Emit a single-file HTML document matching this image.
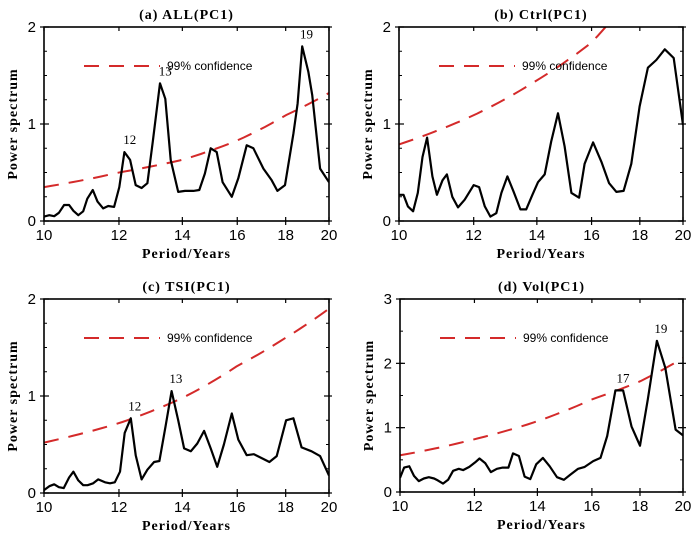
<!DOCTYPE html>
<html><head><meta charset="utf-8"><style>
body{margin:0;background:#fff;}
svg{display:block;}
.tl{font-family:"Liberation Serif",serif;font-weight:bold;font-size:14px;letter-spacing:1px;}
.tk{font-family:"Liberation Sans",sans-serif;font-size:15px;}
.lg{font-family:"Liberation Sans",sans-serif;font-size:12px;}
.pk{font-family:"Liberation Serif",serif;font-size:13px;}
</style></head><body>
<svg id="fig" width="700" height="540" viewBox="0 0 700 540"></svg>
<script>
// Panel (a) ALL(PC1)
const aPeriods=[10,10.13,10.25,10.37,10.5,10.63,10.74,10.87,11,11.11,11.26,11.39,11.55,11.69,11.86,12.01,12.16,12.33,12.5,12.68,12.86,13.03,13.26,13.43,13.61,13.86,14.09,14.38,14.59,14.79,15,15.22,15.44,15.79,16.04,16.37,16.64,17.05,17.4,17.64,17.97,18.34,18.53,18.74,19.02,19.2,19.57,20];
const aValues=[.045,.06,.05,.085,.165,.165,.105,.06,.10,.23,.32,.20,.13,.155,.145,.35,.71,.63,.37,.34,.39,.82,1.42,1.26,.63,.30,.31,.31,.32,.49,.75,.71,.40,.25,.44,.78,.75,.54,.42,.31,.37,.90,1.21,1.80,1.54,1.30,.54,.40];
// Panel (b) Ctrl(PC1)
const bPeriods=[10,10.11,10.22,10.35,10.47,10.59,10.71,10.85,10.97,11.12,11.24,11.39,11.55,11.74,12,12.16,12.33,12.5,12.68,12.84,13.03,13.23,13.45,13.64,13.85,14.04,14.27,14.5,14.74,14.98,15.23,15.52,15.73,16.06,16.39,16.7,17,17.3,17.63,17.99,18.36,18.74,19.13,19.55,20];
const bValues=[.27,.27,.15,.10,.29,.66,.86,.46,.27,.42,.48,.25,.14,.22,.37,.35,.15,.045,.08,.29,.46,.30,.12,.12,.27,.40,.48,.82,1.11,.77,.29,.24,.59,.81,.61,.39,.30,.31,.59,1.18,1.58,1.66,1.77,1.68,.99];
// Panel (c) TSI(PC1)
const cPeriods=[10,10.13,10.25,10.37,10.49,10.63,10.74,10.87,11,11.12,11.27,11.41,11.6,11.74,11.88,12.03,12.17,12.35,12.5,12.68,12.86,13.07,13.24,13.44,13.64,13.86,14.06,14.29,14.52,14.76,15,15.24,15.49,15.79,16.04,16.37,16.66,16.98,17.3,17.61,18.02,18.34,18.71,19.17,19.57,20];
const cValues=[.03,.07,.09,.06,.05,.16,.22,.13,.08,.08,.10,.14,.11,.10,.11,.22,.62,.77,.39,.14,.24,.32,.33,.69,1.05,.75,.46,.43,.51,.64,.46,.27,.50,.82,.55,.39,.40,.36,.32,.38,.75,.77,.47,.43,.38,.18];
// Panel (d) Vol(PC1)
const dPeriods=[10,10.1,10.23,10.35,10.47,10.6,10.73,10.87,10.97,11.11,11.25,11.39,11.55,11.67,11.85,12.02,12.15,12.32,12.49,12.68,12.86,13.04,13.19,13.38,13.57,13.76,13.96,14.19,14.43,14.69,14.94,15.18,15.47,15.72,16.05,16.34,16.61,16.95,17.27,17.63,18,18.35,18.76,19.15,19.64,20];
const dValues=[.22,.38,.40,.25,.17,.21,.23,.21,.18,.13,.19,.33,.36,.34,.39,.46,.52,.45,.31,.36,.38,.38,.60,.56,.24,.20,.43,.53,.40,.23,.19,.27,.36,.39,.48,.53,.87,1.58,1.58,1.02,.72,1.44,2.35,1.93,.97,.88];
// 99% confidence curves
const confPeriods=[10,12,14,16,18,20];
const aConf=[.35,.50,.63,.83,1.09,1.32];
const bConf=[.79,1.09,1.45,1.84,2.45,3.2];
const cConf=[.52,.72,.98,1.31,1.60,1.90];
const dConf=[.57,.82,1.10,1.44,1.72,2.08];
const xTicks=[10,12,14,16,18,20];
const aYTicks=[0,1,2], dYTicks=[0,1,2,3];
const aPeaks=[[12.2,.71,"12"],[13.3,1.42,"13"],[18.75,1.8,"19"]];
const cPeaks=[[12.35,.77,"12"],[13.65,1.05,"13"]];
const dPeaks=[[17.1,1.58,"17"],[18.76,2.35,"19"]];

const NS="http://www.w3.org/2000/svg";
const svg=document.getElementById('fig');
function mk(tag,attrs,parent){const e=document.createElementNS(NS,tag);for(const k in attrs)e.setAttribute(k,attrs[k]);(parent||svg).appendChild(e);return e;}

function panel(id,title,L,R,T,B,ymax,yTicks,periods,values,conf,peaks){
  const g=mk('g',{});
  
  
  const xs=p=>L+(R-L)*Math.log(p/10)/Math.log(2);
  const ys=v=>B-(B-T)*v/ymax;
  const cid='clip-'+id;
  const cp=mk('clipPath',{id:cid},g);mk('rect',{x:L,y:T,width:R-L,height:B-T},cp);
  const t=mk('text',{x:(L+R)/2,y:T-8,'text-anchor':'middle',class:'tl'},g);t.textContent=title;
  
  
  let cd='';const n=confPeriods.length;
  for(let i=0;i<=40;i++){const p=10*Math.pow(2,i/40);
    let j=0;while(j<n-2&&p>confPeriods[j+1])j++;
    const u=Math.log(p/confPeriods[j])/Math.log(confPeriods[j+1]/confPeriods[j]);
    const v=Math.exp(Math.log(conf[j])*(1-u)+Math.log(conf[j+1])*u);
    cd+=(i?'L':'M')+xs(p).toFixed(1)+','+ys(v).toFixed(1);}
  const cl=mk('path',{d:cd,fill:'none',stroke:'#d42a2a','stroke-width':2,'stroke-dasharray':'15,10','clip-path':'url(#'+cid+')'},g);
  
  
  const ly=T+39;
  const ll=mk('line',{x1:L+40,x2:L+116,y1:ly,y2:ly,stroke:'#d42a2a','stroke-width':2,'stroke-dasharray':'15,10'},g);
  
  
  const lt=mk('text',{x:L+123,y:ly+4,class:'lg'},g);lt.textContent='99% confidence';
  
  
  let d='';periods.forEach((p,i)=>{d+=(i?'L':'M')+xs(p).toFixed(1)+','+ys(values[i]).toFixed(1);});
  const sl=mk('path',{d:d,fill:'none',stroke:'#000','stroke-width':2.2,'stroke-linejoin':'round','clip-path':'url(#'+cid+')'},g);
  
  
  const bx=mk('rect',{x:L,y:T,width:R-L,height:B-T,fill:'none',stroke:'#000','stroke-width':1.6},g);
  
  
  xTicks.forEach(p=>{const x=xs(p);
    mk('line',{x1:x,x2:x,y1:B-4,y2:B+4,stroke:'#000','stroke-width':1.2},g);
    mk('line',{x1:x,x2:x,y1:T,y2:T+4,stroke:'#000','stroke-width':1.2},g);
    const tx=mk('text',{x:x,y:B+19,'text-anchor':'middle',class:'tk'},g);tx.textContent=p;
    
    });
  for(let v=0;v<=ymax+1e-9;v+=0.25*(ymax>2?2:1)){const y=ys(v);
    mk('line',{x1:L,x2:L+3,y1:y,y2:y,stroke:'#000','stroke-width':1},g);
    mk('line',{x1:R-3,x2:R,y1:y,y2:y,stroke:'#000','stroke-width':1},g);}
  yTicks.forEach(v=>{const y=ys(v);
    mk('line',{x1:L-4,x2:L+5,y1:y,y2:y,stroke:'#000','stroke-width':1.2},g);
    mk('line',{x1:R-5,x2:R+3,y1:y,y2:y,stroke:'#000','stroke-width':1.2},g);
    const ty=mk('text',{x:L-8,y:y+5,'text-anchor':'end',class:'tk'},g);ty.textContent=v;
    
    });
  const xt=mk('text',{x:(L+R)/2,y:B+37,'text-anchor':'middle',class:'tl'},g);xt.textContent='Period/Years';
  
  
  const yt=mk('text',{x:0,y:0,'text-anchor':'middle',class:'tl',transform:'translate('+(L-27)+','+((T+B)/2)+') rotate(-90)'},g);yt.textContent='Power spectrum';
  
  
  (peaks||[]).forEach(pk=>{const pl=mk('text',{x:xs(pk[0])+4,y:ys(pk[1])-8,'text-anchor':'middle',class:'pk'},g);pl.textContent=pk[2];
    
    });
}
panel('a','(a) ALL(PC1)',44,329,27,221,2,aYTicks,aPeriods,aValues,aConf,aPeaks);
panel('b','(b) Ctrl(PC1)',399,683,27,221,2,aYTicks,bPeriods,bValues,bConf,[]);
panel('c','(c) TSI(PC1)',44,329,299,493,2,aYTicks,cPeriods,cValues,cConf,cPeaks);
panel('d','(d) Vol(PC1)',400,683,299,492,3,dYTicks,dPeriods,dValues,dConf,dPeaks);
</script>
</body></html>
